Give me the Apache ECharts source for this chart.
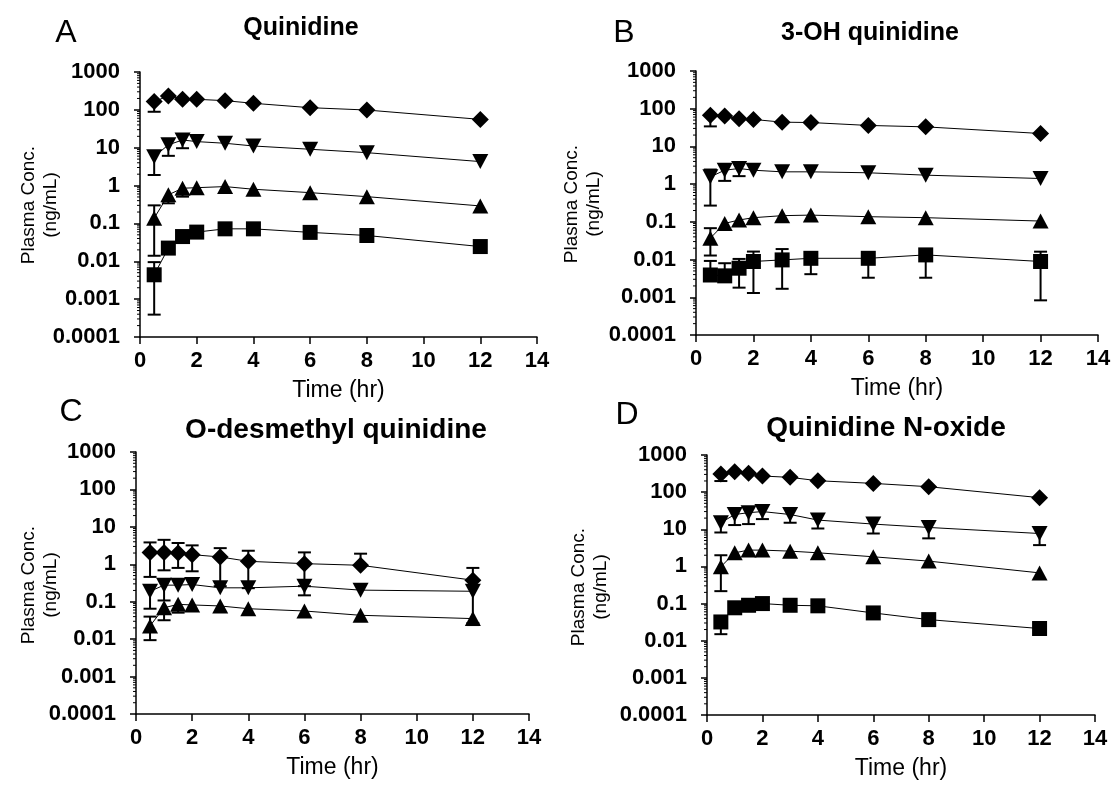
<!DOCTYPE html>
<html>
<head>
	<meta charset="utf-8">
	<title>Quinidine PK</title>
	<script src="https://cdn.jsdelivr.net/npm/echarts@6/dist/echarts.min.js"></script>
	<style type="text/css">
		html, body { height: 100%; margin: 0; background: #fff; }
	</style>
</head>
<body>
	<div id="main" style="width: 1118px;height:785px;"></div>
	<script type="text/javascript">
	// sampling times (hr)
	var times = [0.5, 1, 1.5, 2, 3, 4, 6, 8, 12];
	var yTicks = [0.0001, 0.001, 0.01, 0.1, 1, 10, 100, 1000];
	var xTicks = [0, 2, 4, 6, 8, 10, 12, 14];
	var minorSteps = [2, 3, 4, 5, 6, 7, 8, 9];

	// A - Quinidine
	var aDiamond = [165, 233, 190, 190, 175, 149, 114, 99, 56];
	var aDown = [5.8, 11.9, 16, 14.5, 13.1, 11.1, 9.1, 7.4, 4.3];
	var aUp = [0.138, 0.57, 0.85, 0.88, 0.94, 0.80, 0.65, 0.51, 0.29];
	var aSquare = [0.0044, 0.0223, 0.045, 0.059, 0.072, 0.072, 0.058, 0.048, 0.0245];
	// [time, mean, low, high]
	var aErr = [[0.5, 165, 89, 165], [0.5, 5.8, 1.9, 5.8], [1, 11.9, 6.1, 11.9], [1.5, 16, 9.7, 16],
		[0.5, 0.138, 0.014, 0.30], [1, 0.57, 0.34, 0.57], [1.5, 0.85, 0.51, 0.85],
		[0.5, 0.0044, 0.00039, 0.0095]];

	// B - 3-OH quinidine
	var bDiamond = [67, 64, 54, 52, 44, 43, 36, 33, 22];
	var bDown = [1.56, 2.34, 2.6, 2.34, 2.12, 2.12, 2.0, 1.73, 1.41];
	var bUp = [0.037, 0.091, 0.112, 0.129, 0.146, 0.151, 0.137, 0.129, 0.105];
	var bSquare = [0.0039, 0.0037, 0.0059, 0.0089, 0.0098, 0.0108, 0.0108, 0.0133, 0.0089];
	var bErr = [[0.5, 67, 34, 67], [0.5, 1.56, 0.27, 2.44], [1, 2.34, 1.22, 2.34], [1.5, 2.6, 1.63, 2.6],
		[0.5, 0.037, 0.0128, 0.068],
		[0.5, 0.0039, 0.0039, 0.0092], [1, 0.0037, 0.0037, 0.008], [1.5, 0.0059, 0.0018, 0.0104],
		[2, 0.0089, 0.0013, 0.0163], [3, 0.0098, 0.00168, 0.019], [4, 0.0108, 0.0041, 0.0108],
		[6, 0.0108, 0.0033, 0.0108], [8, 0.0133, 0.0033, 0.0133], [12, 0.0089, 0.00083, 0.0162]];

	// C - O-desmethyl quinidine
	var cDiamond = [2.08, 2.08, 2.0, 1.81, 1.57, 1.2, 1.04, 0.94, 0.376];
	var cDown = [0.19, 0.277, 0.277, 0.288, 0.235, 0.235, 0.26, 0.204, 0.19];
	var cUp = [0.0226, 0.069, 0.085, 0.082, 0.077, 0.065, 0.0565, 0.0434, 0.0354];
	var cErr = [[0.5, 2.08, 0.46, 3.84], [1, 2.08, 0.69, 4.5], [1.5, 2.0, 0.8, 3.7], [2, 1.81, 0.65, 3.2],
		[3, 1.57, 0.26, 2.7], [4, 1.2, 0.23, 2.3], [6, 1.04, 0.26, 2.08], [8, 0.94, 0.94, 1.92], [12, 0.376, 0.376, 0.8],
		[0.5, 0.19, 0.065, 0.19], [1, 0.277, 0.108, 0.277], [6, 0.26, 0.148, 0.26], [12, 0.19, 0.0266, 0.19],
		[0.5, 0.0226, 0.0094, 0.04], [1, 0.069, 0.032, 0.069], [1.5, 0.085, 0.051, 0.085], [12, 0.0354, 0.0238, 0.0354]];

	// D - Quinidine N-oxide
	var dDiamond = [307, 356, 321, 272, 250, 203, 172, 140, 71];
	var dDown = [15, 25, 28, 30, 25, 17.7, 13.8, 11.2, 7.7];
	var dUp = [0.98, 2.33, 2.75, 2.75, 2.58, 2.33, 1.82, 1.39, 0.67];
	var dSquare = [0.032, 0.077, 0.09, 0.1, 0.09, 0.087, 0.056, 0.037, 0.0213];
	var dDownLow = [8.2, 13, 13.8, 18.8, 15, 10.5, 7.7, 5.7, 3.75];
	var dErr = [[0.5, 307, 199, 307], [0.5, 0.98, 0.216, 2.0], [0.5, 0.032, 0.015, 0.032]];
	for (var k = 0; k < times.length; k++) {
		dErr.push([times[k], dDown[k], dDownLow[k], dDown[k]]);
	}

	// log minor ticks 2..9 of each decade
	var minorTicks = [];
	yTicks.slice(0, -1).forEach(function (d) {
		minorSteps.forEach(function (m) { minorTicks.push([0, d * m]); });
	});

	var FONT = '"Liberation Sans", Arial, sans-serif';

	var panels = [
		{ letter: 'A', title: 'Quinidine', titleSize: 25, series: [aDiamond, aDown, aUp, aSquare], err: aErr,
			grid: { left: 140, top: 72, width: 397, height: 265 }, letterPos: [66, 33], titlePos: [301, 28], namePos: [40, 205] },
		{ letter: 'B', title: '3-OH quinidine', titleSize: 25, series: [bDiamond, bDown, bUp, bSquare], err: bErr,
			grid: { left: 696, top: 71, width: 402, height: 264 }, letterPos: [624, 33], titlePos: [870, 33], namePos: [583, 204] },
		{ letter: 'C', title: 'O-desmethyl quinidine', titleSize: 28, series: [cDiamond, cDown, cUp, null], err: cErr,
			grid: { left: 136, top: 452, width: 393, height: 262 }, letterPos: [71, 412], titlePos: [336, 430], namePos: [40, 585] },
		{ letter: 'D', title: 'Quinidine N-oxide', titleSize: 28, series: [dDiamond, dDown, dUp, dSquare], err: dErr,
			grid: { left: 707, top: 455, width: 388, height: 260 }, letterPos: [627, 415], titlePos: [886, 428], namePos: [590, 587] }
	];

	var symbols = [
		{ symbol: 'diamond', size: 17, rotate: 0 },
		{ symbol: 'triangle', size: [16, 15], rotate: 180 },
		{ symbol: 'triangle', size: [16, 15], rotate: 0 },
		{ symbol: 'rect', size: 15, rotate: 0 }
	];

	function logLabel(v) {
		var e = Math.round(Math.log10(v));
		return e >= 0 ? String(Math.pow(10, e)) : Math.pow(10, e).toFixed(-e);
	}

	function renderErr(params, api) {
		var t = api.value(0), m = api.value(1), lo = api.value(2), hi = api.value(3);
		var pLo = api.coord([t, lo]);
		var pHi = api.coord([t, hi]);
		var cap = 6.5;
		var style = { stroke: '#000', lineWidth: 2 };
		var kids = [{ type: 'line', shape: { x1: pLo[0], y1: pLo[1], x2: pHi[0], y2: pHi[1] }, style: style }];
		if (lo < m) kids.push({ type: 'line', shape: { x1: pLo[0] - cap, y1: pLo[1], x2: pLo[0] + cap, y2: pLo[1] }, style: style });
		if (hi > m) kids.push({ type: 'line', shape: { x1: pHi[0] - cap, y1: pHi[1], x2: pHi[0] + cap, y2: pHi[1] }, style: style });
		return { type: 'group', children: kids };
	}

	function renderMinor(params, api) {
		var p = api.coord([api.value(0), api.value(1)]);
		return { type: 'line', shape: { x1: p[0] - 3, y1: p[1], x2: p[0], y2: p[1] }, style: { stroke: '#000', lineWidth: 1 } };
	}

	var grids = [], xAxes = [], yAxes = [], series = [], graphics = [];
	panels.forEach(function (p, i) {
		grids.push(p.grid);
		xAxes.push({
			type: 'value', gridIndex: i, min: 0, max: 14, interval: 2,
			name: 'Time (hr)', nameLocation: 'middle', nameGap: 42,
			nameTextStyle: { fontFamily: FONT, fontSize: 23, color: '#000' },
			axisLine: { lineStyle: { color: '#000', width: 1.5 } },
			axisTick: { show: true, length: 7, inside: false, lineStyle: { color: '#000', width: 1.5 } },
			axisLabel: { fontFamily: FONT, fontSize: 22, fontWeight: 'bold', color: '#000', margin: 13,
				formatter: function (v) { return xTicks.indexOf(v) >= 0 ? String(v) : ''; } },
			splitLine: { show: false }
		});
		yAxes.push({
			type: 'log', logBase: 10, gridIndex: i, min: yTicks[0], max: yTicks[yTicks.length - 1], interval: 1,
			axisLine: { show: true, lineStyle: { color: '#000', width: 1.5 } },
			axisTick: { show: true, length: 6, lineStyle: { color: '#000', width: 1.5 } },
			axisLabel: { fontFamily: FONT, fontSize: 22, fontWeight: 'bold', color: '#000', margin: 20, formatter: logLabel },
			splitLine: { show: false }
		});
		series.push({
			type: 'custom', xAxisIndex: i, yAxisIndex: i, z: 1, clip: false,
			renderItem: renderMinor, data: minorTicks, silent: true
		});
		series.push({
			type: 'custom', xAxisIndex: i, yAxisIndex: i, z: 1,
			renderItem: renderErr, data: p.err, silent: true
		});
		p.series.forEach(function (vals, j) {
			if (!vals) return;
			series.push({
				type: 'line', xAxisIndex: i, yAxisIndex: i, z: 3,
				data: times.map(function (t, k) { return [t, vals[k]]; }),
				symbol: symbols[j].symbol, symbolSize: symbols[j].size, symbolRotate: symbols[j].rotate,
				lineStyle: { color: '#000', width: 1 },
				itemStyle: { color: '#000', borderWidth: 0 },
				showAllSymbol: true, animation: false, silent: true
			});
		});
		graphics.push({
			type: 'text', x: p.letterPos[0], y: p.letterPos[1],
			style: { text: p.letter, fontFamily: FONT, fontSize: 32, fill: '#000', textAlign: 'center', textVerticalAlign: 'middle' }
		});
		graphics.push({
			type: 'text', x: p.titlePos[0], y: p.titlePos[1],
			style: { text: p.title, fontFamily: FONT, fontSize: p.titleSize, fontWeight: 'bold', fill: '#000', textAlign: 'center', textVerticalAlign: 'middle' }
		});
		graphics.push({
			type: 'text', x: p.namePos[0], y: p.namePos[1], rotation: Math.PI / 2,
			style: { text: 'Plasma Conc.\n(ng/mL)', fontFamily: FONT, fontSize: 19, lineHeight: 22, fill: '#000', align: 'center', verticalAlign: 'middle' }
		});
	});

	var myChart = echarts.init(document.getElementById('main'));
	myChart.setOption({
		animation: false,
		backgroundColor: '#fff',
		grid: grids,
		xAxis: xAxes,
		yAxis: yAxes,
		series: series,
		graphic: graphics
	});
	</script>
</body>
</html>
